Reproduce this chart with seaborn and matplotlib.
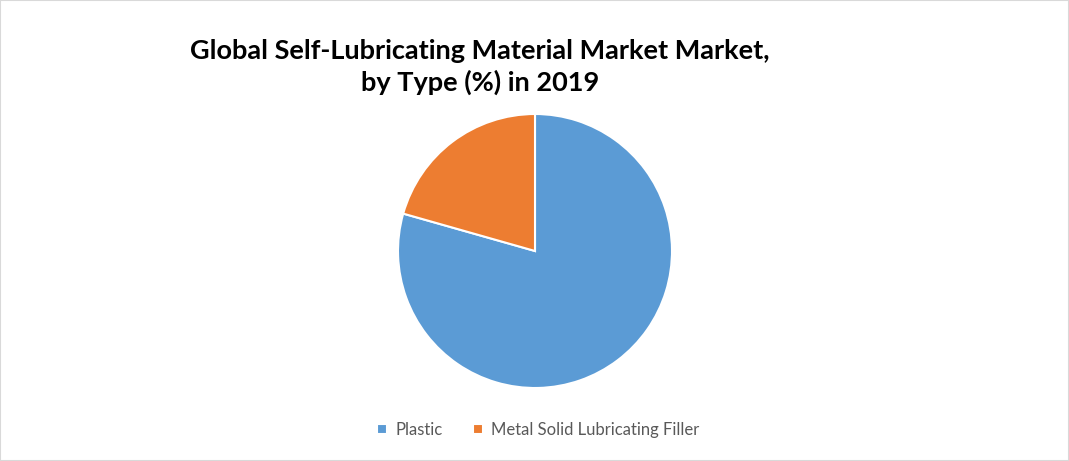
import matplotlib.pyplot as plt
import seaborn as sns
from matplotlib.patches import Rectangle

sns.set_theme(style="white")
plt.rcParams['font.family'] = ['Lato', 'DejaVu Sans']

# Datos del gráfico
tipos = ['Plastic', 'Metal Solid Lubricating Filler']
participacion = [79.4, 20.6]
colores = ['#5B9BD5', '#ED7D31']
titulo = 'Global Self-Lubricating Material Market Market,\nby Type (%) in 2019'

fig = plt.figure(figsize=(10.69, 4.61), dpi=100)
fig.patch.set_facecolor('white')

# Eje cuadrado para el pastel (centro ~ (535, 251) px, radio ~137 px)
W, H = 1069, 461
cx, cy, r = 535, 251, 137
ax = fig.add_axes([(cx - r) / W, (H - cy - r) / H, 2 * r / W, 2 * r / H])
wedges, _ = ax.pie(participacion, colors=colores, startangle=90, counterclock=False,
                   radius=1, wedgeprops={'edgecolor': 'white', 'linewidth': 1.5})
ax.set_xlim(-1, 1)
ax.set_ylim(-1, 1)
ax.axis('off')

fig.text(480 / W, 1 - 67 / H, titulo, ha='center', va='center', fontsize=19.5,
         fontweight='bold', color='black', linespacing=1.3)

leg = fig.legend(wedges, tipos, loc='center', bbox_to_anchor=(538 / W, 1 - 430 / H),
                 ncol=2, frameon=False, fontsize=12, handlelength=0.6, handleheight=0.6,
                 handletextpad=0.5, columnspacing=1.8, labelcolor='#595959')

# Borde gris del gráfico
fig.patches.append(Rectangle((0, 0), 1, 1, transform=fig.transFigure, fill=False,
                             edgecolor='#d9d9d9', linewidth=1.5))

plt.savefig('out.png', dpi=100)
plt.close()
